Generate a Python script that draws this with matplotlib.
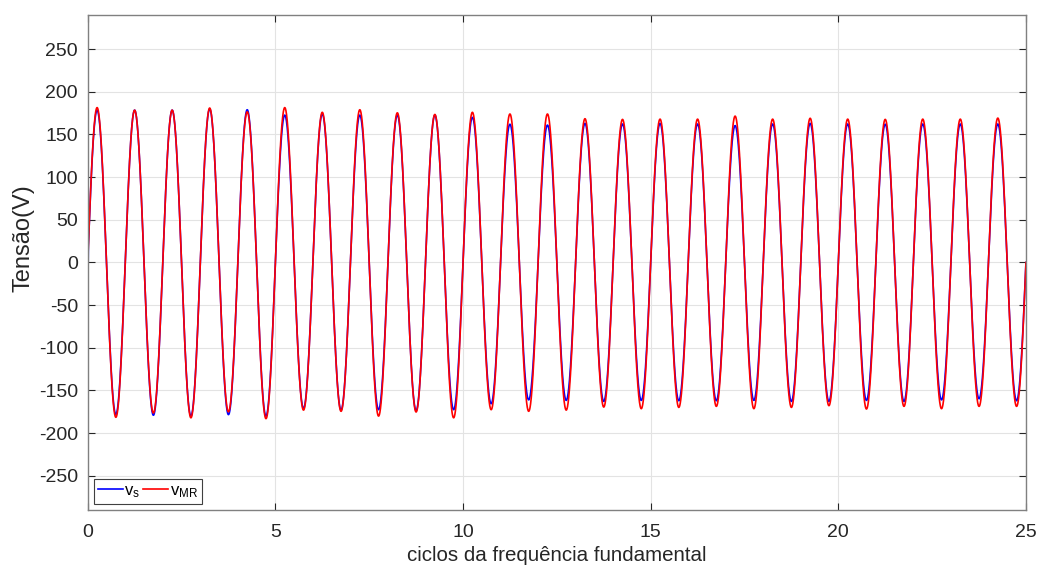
import numpy as np
import matplotlib
matplotlib.use('Agg')
import matplotlib.pyplot as plt

plt.rcParams['font.family'] = ['Liberation Sans', 'DejaVu Sans']
plt.rcParams['mathtext.fontset'] = 'custom'
plt.rcParams['mathtext.rm'] = 'Liberation Sans'
plt.rcParams['mathtext.it'] = 'Liberation Sans'
plt.rcParams['axes.unicode_minus'] = False

# peak values of each half cycle (V), 25 cycles
vs_pos = [178.5, 178.5, 178.5, 180, 179, 172.7, 174, 172.7, 172.7, 172.7,
          170, 162, 161, 163, 162.3, 163, 162.3, 160.4, 162.3, 163,
          162.3, 162, 162.3, 162.3, 162.3]
vs_neg = [178, 179, 180, 178.3, 180, 171, 173, 172.5, 173.6, 172.5,
          165.5, 161, 161.6, 162.8, 161.6, 162, 162, 161.6, 162.8, 162.8,
          161.6, 162.8, 161, 159.7, 162]
vmr_pos = [181.5, 178.5, 178.5, 181, 176.5, 181.5, 176, 179, 175.4, 173.5,
           176, 174, 174, 168.5, 167.7, 168, 168, 171.5, 168, 169,
           168, 167.7, 168, 168, 169.2]
vmr_neg = [181.4, 176.4, 182, 175, 183, 173, 174.4, 180, 175.2, 182,
           172.5, 174.4, 173, 169.4, 171.3, 169.8, 168.6, 171.3, 169.8, 167.8,
           171.7, 168.6, 171.3, 168.6, 168.6]

n_cyc = 25
x = np.linspace(0, n_cyc, n_cyc * 400 + 1)


def wave(pos, neg):
    k = np.minimum(np.floor(x).astype(int), n_cyc - 1)
    s = np.sin(2 * np.pi * x)
    amp = np.where(s >= 0, np.array(pos)[k], np.array(neg)[k])
    return amp * s


vs = wave(vs_pos, vs_neg)
vs[:6] = 0  # sampled signal starts at zero
vmr = wave(vmr_pos, vmr_neg)

fig = plt.figure(figsize=(10.38, 5.70), dpi=100)
ax = fig.add_axes([0.0845, 0.1053, 0.9039, 0.8684])
ax.plot(x, vs, color='b', lw=1.2, label=r'$\mathrm{v_s}$')
ax.plot(x, vmr, color='r', lw=1.2, label=r'$\mathrm{v_{MR}}$')

ax.set_xlim(0, 25)
ax.set_ylim(-290, 290)
ax.set_xticks([0, 5, 10, 15, 20, 25])
ax.set_yticks(np.arange(-250, 251, 50))
ax.grid(True, color='#e3e3e3', lw=0.8)
ax.set_axisbelow(True)
ax.tick_params(direction='in', length=5, width=0.8, labelsize=14,
               colors='#262626', top=True, right=True)
ax.tick_params(axis='x', pad=10)
ax.tick_params(axis='y', pad=7)
for sp in ax.spines.values():
    sp.set_color('#808080')
    sp.set_linewidth(1.0)

ax.set_xlabel('ciclos da frequência fundamental', fontsize=14.8, color='#262626', labelpad=4)
ax.set_ylabel('Tensão(V)', fontsize=17, color='#262626')
ax.yaxis.set_label_coords(-0.057, 0.55)

leg = ax.legend(loc='lower left', ncol=2, fontsize=12, handlelength=1.5,
                handletextpad=0.1, columnspacing=0.15, borderpad=0.25,
                borderaxespad=0.35, fancybox=False, framealpha=1,
                edgecolor='#404040')
leg.get_frame().set_linewidth(0.8)

fig.savefig('out.png', dpi=100)
